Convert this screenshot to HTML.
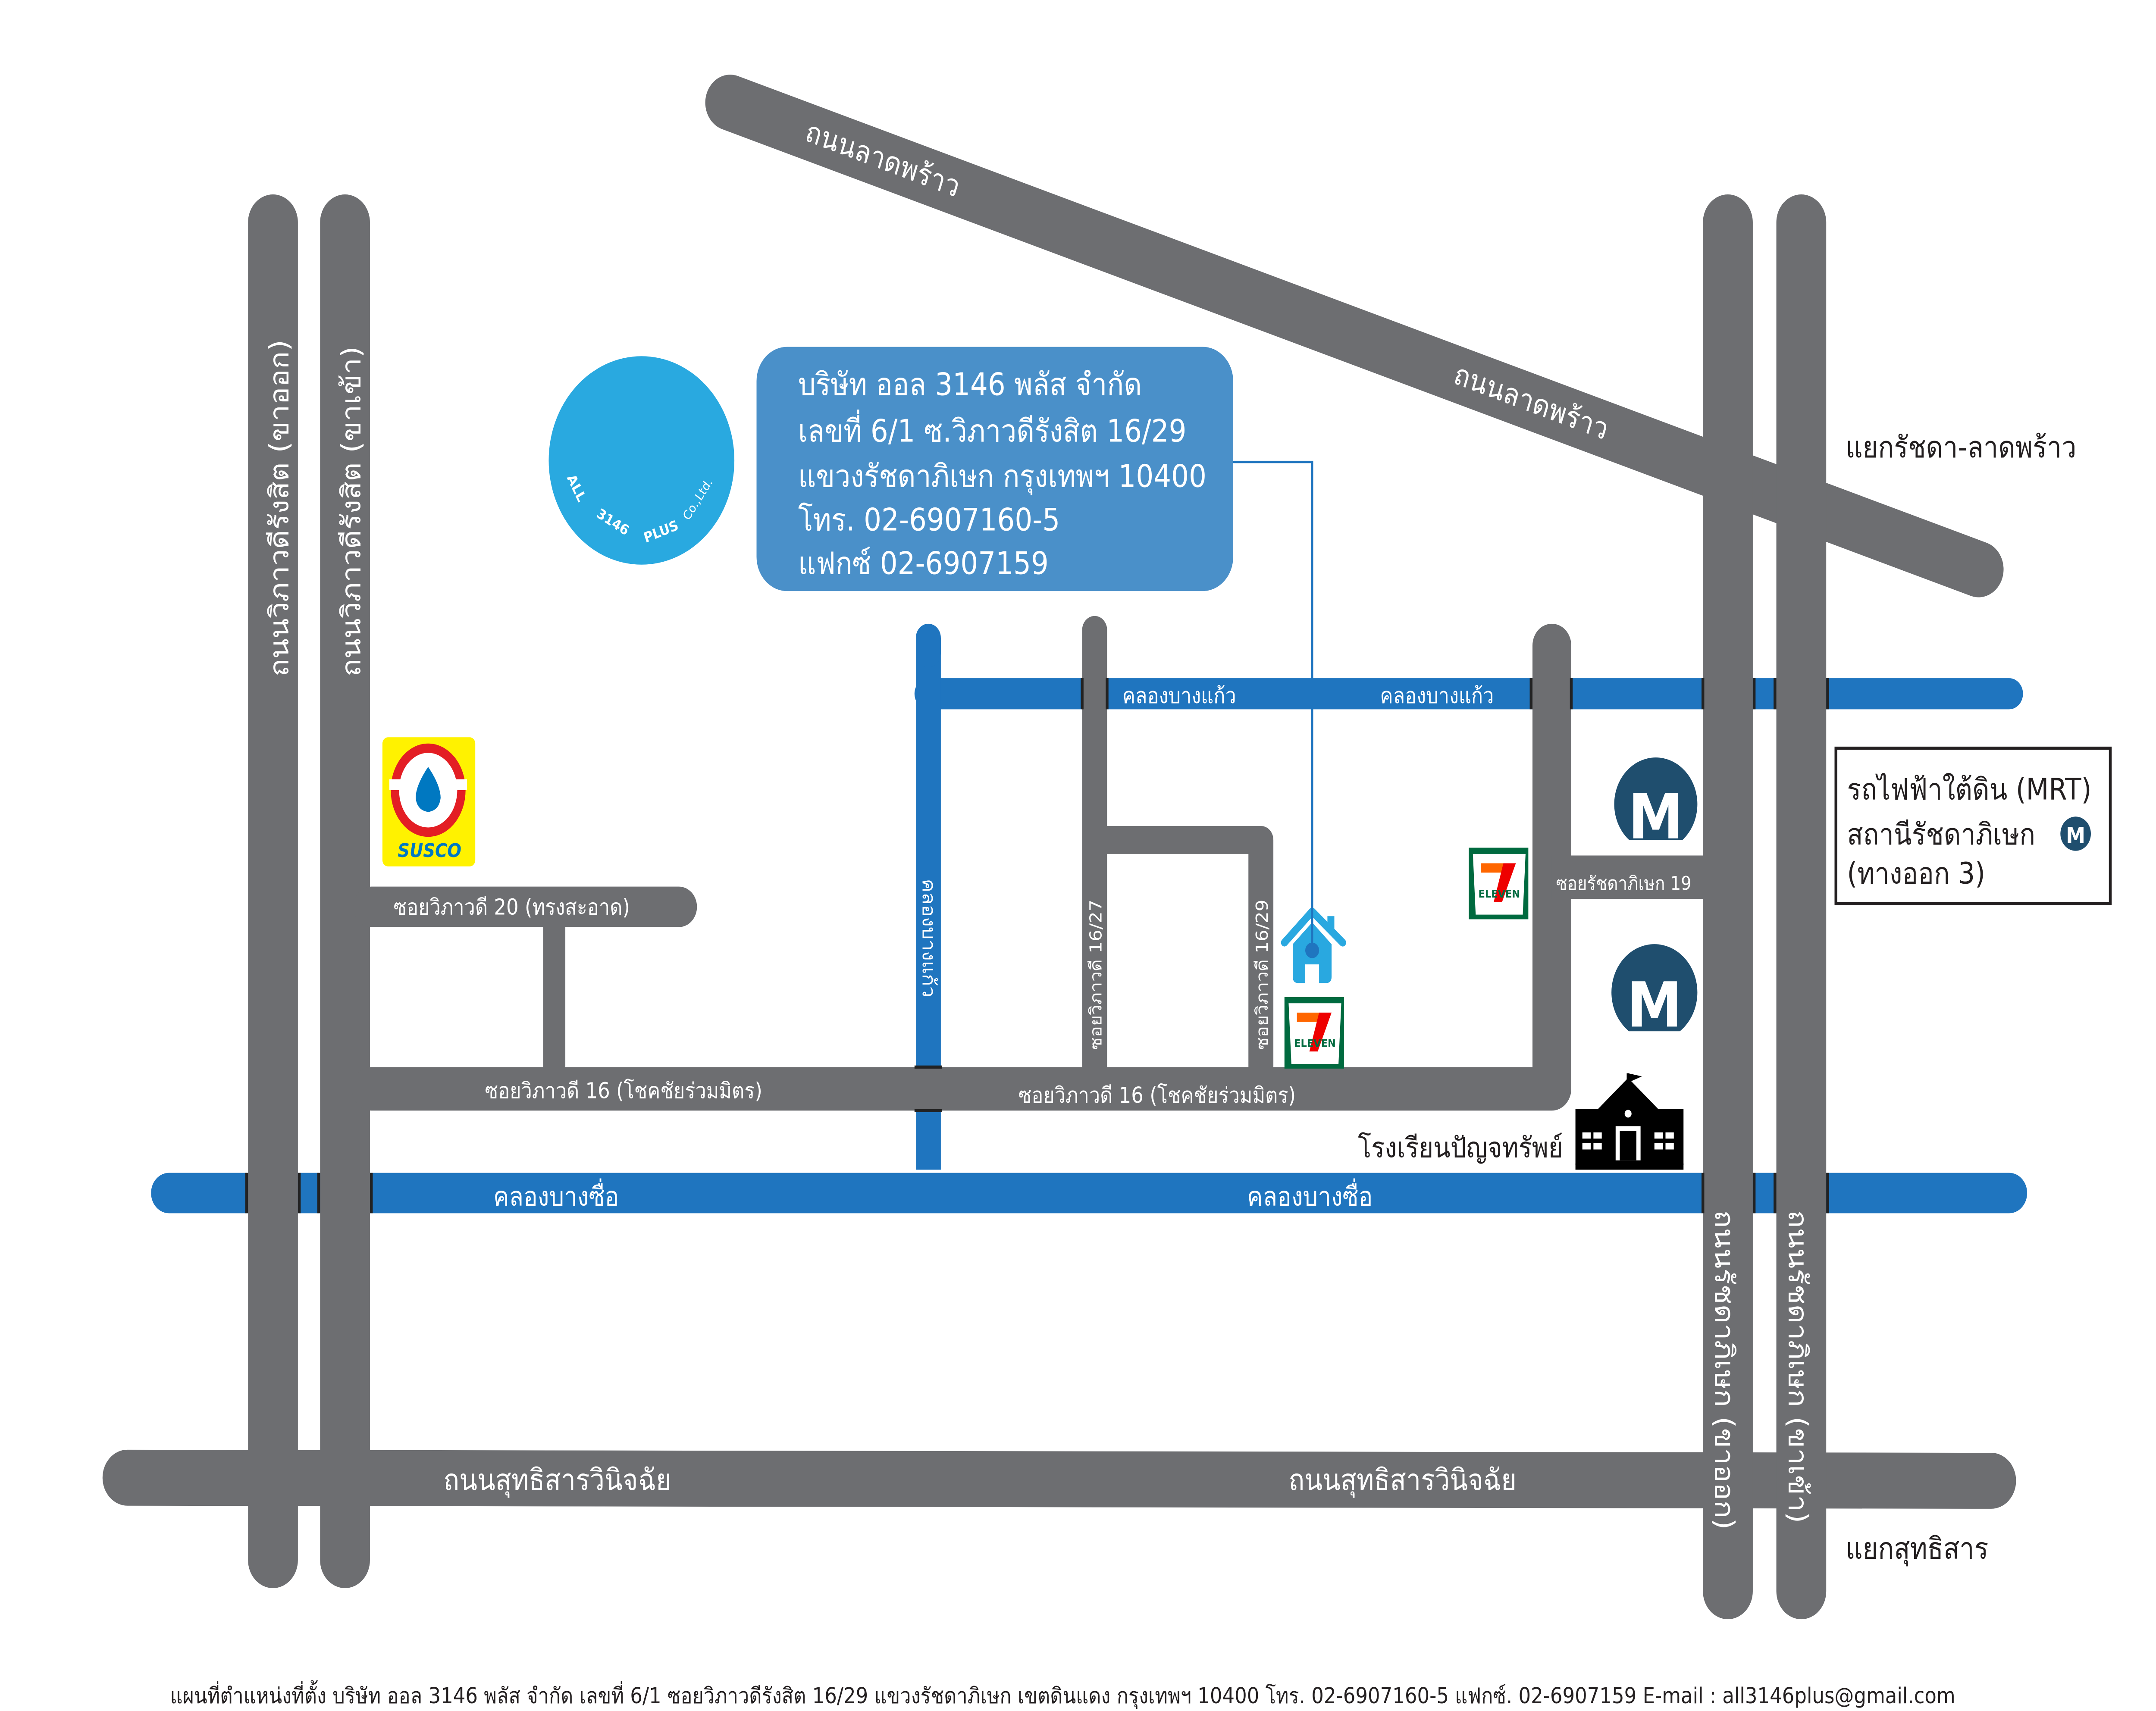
<!DOCTYPE html>
<html><head><meta charset="utf-8">
<style>
html,body{margin:0;padding:0;background:#fff;overflow:hidden;width:100%;height:100%;}
svg{display:block;position:absolute;left:0;top:0;width:100vw;height:100vh;}
text{font-family:"DejaVu Sans","Liberation Sans",sans-serif;}
</style></head>
<body>
<svg viewBox="0 0 1556 1100" preserveAspectRatio="none" xmlns="http://www.w3.org/2000/svg">
<rect width="1556" height="1100" fill="#fff"/>
<g stroke="#1f75bf" stroke-linecap="round" fill="none">
<line x1="122" y1="767" x2="1450" y2="767" stroke-width="26"/>
<line x1="670" y1="446" x2="1450" y2="446" stroke-width="20"/>
<line x1="670" y1="410" x2="670" y2="752" stroke-width="18" stroke-linecap="butt"/>
</g>
<line x1="670" y1="410" x2="670" y2="420" stroke="#1f75bf" stroke-width="18" stroke-linecap="round"/>
<g stroke="#6d6e71" stroke-linecap="round" fill="none">
<line x1="527" y1="66" x2="1428" y2="366" stroke-width="36"/>
<line x1="92" y1="950" x2="1437" y2="952" stroke-width="36"/>
<line x1="197" y1="143" x2="197" y2="1003" stroke-width="36"/>
<line x1="249" y1="143" x2="249" y2="1003" stroke-width="36"/>
<line x1="1247" y1="143" x2="1247" y2="1023" stroke-width="36"/>
<line x1="1300" y1="143" x2="1300" y2="1023" stroke-width="36"/>
<line x1="400" y1="583" x2="400" y2="690" stroke-width="16" stroke-linecap="butt"/>
<line x1="268" y1="583" x2="490" y2="583" stroke-width="26"/>
<line x1="790" y1="405" x2="790" y2="690" stroke-width="18"/>
<path d="M790 540 L910 540 L910 690" stroke-width="18" stroke-linejoin="round"/>
<path d="M268 700 L1120 700 L1120 415" stroke-width="28" stroke-linejoin="round"/>
<line x1="1120" y1="564" x2="1232" y2="564" stroke-width="28" stroke-linecap="butt"/>
</g>
<g stroke="#222" stroke-width="2">
<line x1="178" y1="754" x2="178" y2="780"/><line x1="216" y1="754" x2="216" y2="780"/>
<line x1="230" y1="754" x2="230" y2="780"/><line x1="268" y1="754" x2="268" y2="780"/>
<line x1="1229" y1="754" x2="1229" y2="780"/><line x1="1266" y1="754" x2="1266" y2="780"/>
<line x1="1281" y1="754" x2="1281" y2="780"/><line x1="1319" y1="754" x2="1319" y2="780"/>
<line x1="781" y1="436" x2="781" y2="456"/><line x1="799" y1="436" x2="799" y2="456"/>
<line x1="1105" y1="436" x2="1105" y2="456"/><line x1="1134" y1="436" x2="1134" y2="456"/>
<line x1="1229" y1="436" x2="1229" y2="456"/><line x1="1266" y1="436" x2="1266" y2="456"/>
<line x1="1281" y1="436" x2="1281" y2="456"/><line x1="1319" y1="436" x2="1319" y2="456"/>
<line x1="660" y1="686" x2="680" y2="686"/><line x1="660" y1="714" x2="680" y2="714"/>
</g>
<g fill="#fff" font-size="19">
<text transform="translate(208,435) rotate(-90)">ถนนวิภาวดีรังสิต (ขาออก)</text>
<text transform="translate(260,435) rotate(-90)">ถนนวิภาวดีรังสิต (ขาเข้า)</text>
<text transform="translate(1238,778) rotate(90)">ถนนรัชดาภิเษก (ขาออก)</text>
<text transform="translate(1291,778) rotate(90)">ถนนรัชดาภิเษก (ขาเข้า)</text>
<text transform="translate(580,90) rotate(18.5)">ถนนลาดพร้าว</text>
<text transform="translate(1048,246) rotate(18.5)">ถนนลาดพร้าว</text>
<text x="320" y="958">ถนนสุทธิสารวินิจฉัย</text>
<text x="930" y="958">ถนนสุทธิสารวินิจฉัย</text>
<text x="356" y="775" font-size="17">คลองบางซื่อ</text>
<text x="900" y="775" font-size="17">คลองบางซื่อ</text>
</g>
<g fill="#fff" font-size="14">
<text x="810" y="452">คลองบางแก้ว</text>
<text x="996" y="452">คลองบางแก้ว</text>
<text x="284" y="588">ซอยวิภาวดี 20 (ทรงสะอาด)</text>
<text x="350" y="706">ซอยวิภาวดี 16 (โชคชัยร่วมมิตร)</text>
<text x="735" y="709">ซอยวิภาวดี 16 (โชคชัยร่วมมิตร)</text>
<text x="1123" y="572" font-size="12">ซอยรัชดาภิเษก 19</text>
<text transform="translate(666,565) rotate(90)" font-size="13">คลองบางแก้ว</text>
<text transform="translate(795,675) rotate(-90)" font-size="12">ซอยวิภาวดี 16/27</text>
<text transform="translate(915,675) rotate(-90)" font-size="12">ซอยวิภาวดี 16/29</text>
</g>
<g fill="#231f20" font-size="19">
<text x="1332" y="294">แยกรัชดา-ลาดพร้าว</text>
<text x="1332" y="1002">แยกสุทธิสาร</text>
<text x="980" y="744" font-size="18">โรงเรียนปัญจทรัพย์</text>
</g>
<rect x="1325" y="481" width="198" height="100" fill="#fff" stroke="#231f20" stroke-width="2"/>
<g fill="#231f20" font-size="19">
<text x="1333" y="514">รถไฟฟ้าใต้ดิน (MRT)</text>
<text x="1333" y="543">สถานีรัชดาภิเษก</text>
<text x="1333" y="568">(ทางออก 3)</text>
</g>
<ellipse cx="1498" cy="536" rx="11" ry="11" fill="#1f4e6e"/>
<text x="1498" y="542" font-size="14" font-weight="bold" fill="#fff" text-anchor="middle" font-family="Liberation Sans">M</text>
<g>
<ellipse cx="1195" cy="517" rx="30" ry="30" fill="#1f4e6e"/>
<rect x="1165" y="540" width="60" height="10" fill="#fff"/>
<text x="1195" y="539" font-size="40" font-weight="bold" fill="#fff" text-anchor="middle" font-family="Liberation Sans">M</text>
<ellipse cx="1194" cy="638" rx="31" ry="31" fill="#1f4e6e"/>
<rect x="1163" y="663" width="62" height="10" fill="#fff"/>
<text x="1194" y="660" font-size="40" font-weight="bold" fill="#fff" text-anchor="middle" font-family="Liberation Sans">M</text>
</g>
<g>
<rect x="1060" y="545" width="43" height="46" fill="#006a3f"/>
<path d="M1063 549 L1101 549 L1099 588 L1065 588 Z" fill="#fff"/>
<rect x="1069" y="555" width="16" height="6" fill="#f60"/>
<path d="M1085 555 L1094 555 L1084 580 L1078 580 Z" fill="#e00"/>
<text x="1082" y="577" font-size="7" font-weight="bold" fill="#006a3f" text-anchor="middle" font-family="Liberation Sans">ELEVEN</text>
</g>
<g transform="translate(-133,96)">
<rect x="1060" y="545" width="43" height="46" fill="#006a3f"/>
<path d="M1063 549 L1101 549 L1099 588 L1065 588 Z" fill="#fff"/>
<rect x="1069" y="555" width="16" height="6" fill="#f60"/>
<path d="M1085 555 L1094 555 L1084 580 L1078 580 Z" fill="#e00"/>
<text x="1082" y="577" font-size="7" font-weight="bold" fill="#006a3f" text-anchor="middle" font-family="Liberation Sans">ELEVEN</text>
</g>
<path d="M927 606 L947 586 L969 606" fill="none" stroke="#29a8e0" stroke-width="5" stroke-linecap="round" stroke-linejoin="round"/>
<path d="M933 607 L947 593 L961 607 L961 628 Q961 632 957 632 L952 632 L952 620 L942 620 L942 632 L937 632 Q933 632 933 628 Z" fill="#29a8e0"/>
<rect x="958" y="589" width="5" height="10" fill="#29a8e0"/>
<polyline points="890,297 947,297 947,610" fill="none" stroke="#1f75bf" stroke-width="1.5"/>
<circle cx="947" cy="611" r="5" fill="#1f75bf"/>
<g fill="#000">
<rect x="1137" y="713" width="78" height="36"/>
<rect x="1137" y="748" width="78" height="4"/>
<path d="M1150 716 L1175 693 L1200 716 Z"/>
<rect x="1174" y="690" width="1.5" height="16"/>
<path d="M1175 690 L1185 692 L1175 696Z"/>
</g>
<g fill="#fff">
<rect x="1142" y="728" width="6" height="4"/><rect x="1150" y="728" width="6" height="4"/>
<rect x="1142" y="735" width="6" height="4"/><rect x="1150" y="735" width="6" height="4"/>
<rect x="1194" y="728" width="6" height="4"/><rect x="1202" y="728" width="6" height="4"/>
<rect x="1194" y="735" width="6" height="4"/><rect x="1202" y="735" width="6" height="4"/>
<rect x="1166" y="724" width="18" height="22"/>
<circle cx="1175" cy="716" r="2.5"/>
</g>
<rect x="1169" y="727" width="12" height="19" fill="#000"/>
<rect x="276" y="474" width="67" height="83" rx="4" fill="#fff200"/>
<ellipse cx="309" cy="508" rx="27" ry="30" fill="#e31e24"/>
<ellipse cx="309" cy="508" rx="21" ry="24" fill="#fff"/>
<rect x="281" y="501" width="56" height="7" fill="#fff"/>
<path d="M309 493 Q300 505 300 513 Q301 521 309 522 Q317 521 318 513 Q318 505 309 493Z" fill="#0078c1"/>
<text x="310" y="551" font-size="12" font-weight="bold" font-style="italic" fill="#0078c1" text-anchor="middle" font-family="Liberation Sans">SUSCO</text>
<circle cx="463" cy="296" r="67" fill="#29a9e0"/>
<text transform="translate(409,307) rotate(62)" font-size="9" font-weight="bold" fill="#fff" font-family="Liberation Sans">ALL</text>
<text transform="translate(430,332) rotate(30)" font-size="9" font-weight="bold" fill="#fff" font-family="Liberation Sans">3146</text>
<text transform="translate(466,349) rotate(-20)" font-size="9" font-weight="bold" fill="#fff" font-family="Liberation Sans">PLUS</text>
<text transform="translate(497,335) rotate(-55)" font-size="8" fill="#fff" font-family="Liberation Sans">Co.,Ltd.</text>
<rect x="546" y="223" width="344" height="157" rx="22" fill="#4a90c9"/>
<g fill="#fff" font-size="20">
<text x="576" y="254">บริษัท ออล 3146 พลัส จำกัด</text>
<text x="576" y="284">เลขที่ 6/1 ซ.วิภาวดีรังสิต 16/29</text>
<text x="576" y="313">แขวงรัชดาภิเษก กรุงเทพฯ 10400</text>
<text x="576" y="341">โทร. 02-6907160-5</text>
<text x="576" y="369">แฟกซ์ 02-6907159</text>
</g>
<text x="767" y="1095" font-size="14" fill="#231f20" text-anchor="middle">แผนที่ตำแหน่งที่ตั้ง บริษัท ออล 3146 พลัส จำกัด เลขที่ 6/1 ซอยวิภาวดีรังสิต 16/29 แขวงรัชดาภิเษก เขตดินแดง กรุงเทพฯ 10400 โทร. 02-6907160-5 แฟกซ์. 02-6907159 E-mail : all3146plus@gmail.com</text>
</svg>
</body></html>
